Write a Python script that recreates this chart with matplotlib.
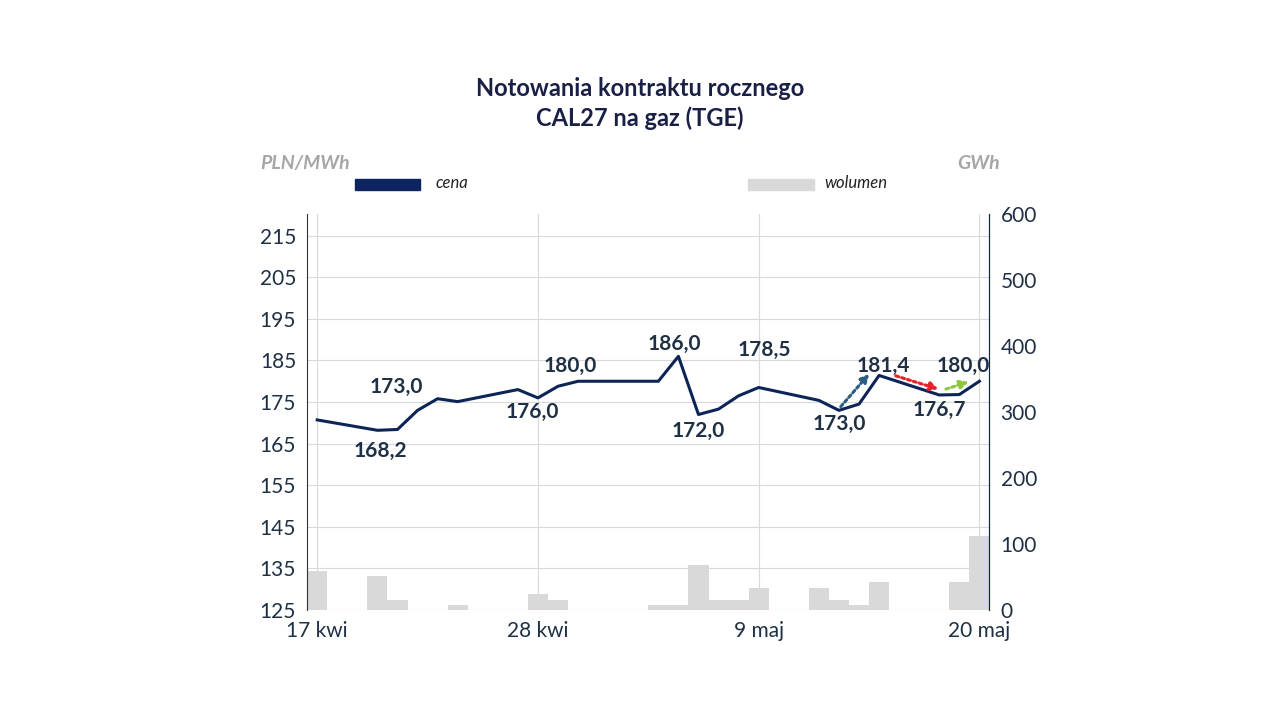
import numpy as np
import matplotlib.pyplot as plt
from matplotlib.patches import Rectangle

plt.rcParams['font.family'] = ['Lato', 'DejaVu Sans']

# dni liczone od 17 kwi
dni = [0, 3, 4, 5, 6, 7, 10, 11, 12, 13, 17, 18, 19, 20, 21, 22, 25, 26, 27, 28, 31, 32, 33]
cena = [170.7, 168.2, 168.4, 173.0, 175.8, 175.1, 178.0, 176.0, 178.8, 180.0, 180.0, 186.0,
        172.0, 173.3, 176.5, 178.5, 175.4, 173.0, 174.5, 181.4, 176.7, 176.8, 180.0]
dni_vol = [0, 3, 4, 7, 11, 12, 17, 18, 19, 20, 21, 22, 25, 26, 27, 28, 32, 33]
wolumen = [59, 52, 15, 8, 24, 15, 8, 8, 68, 15, 15, 33, 33, 15, 8, 42, 42, 112]
tick_pos = [0, 11, 22, 33]
tick_lab = ['17 kwi', '28 kwi', '9 maj', '20 maj']
# (indeks punktu, przesuniecie x, y w punktach)
opisy = [(1, 2, -15), (3, -15, 17), (7, -4, -10), (9, -6, 11), (11, -3, 9), (12, 0, -12),
         (15, 4, 27), (17, 0, -10), (19, 3, 7), (20, 0, -11), (22, -12, 11)]

navy = '#0d2457'
txt = '#1f3045'
fig = plt.figure(figsize=(12.8, 7.2), dpi=100)
ax2 = fig.add_axes([0.24, 0.153, 0.533, 0.55])
ax = ax2.twinx()
ax2.yaxis.tick_right()
ax.yaxis.tick_left()
ax2.bar(dni_vol, wolumen, width=1.0, color='#d9d9d9', zorder=1)
ax2.set_ylim(0, 600)
ax2.set_yticks(range(0, 601, 100))
ax.set_ylim(125, 125 + 396 / 4.156)
ax.set_yticks(range(125, 216, 10))
ax.set_xlim(-0.5, 33.5)
ax.plot(dni, cena, color=navy, lw=2.2, zorder=3)
for i, dx, dy in opisy:
    ax.annotate(f'{cena[i]:.1f}'.replace('.', ','), (dni[i], cena[i]), xytext=(dx, dy),
                textcoords='offset points', ha='center', va='center',
                fontsize=15, fontweight='bold', color=txt)
arr = dict(arrowstyle='-|>', lw=2.2, linestyle=(0, (1, 1)), mutation_scale=12)
ax.annotate('', xy=(27.6, 182.3), xytext=(26, 173.4), arrowprops=dict(color='#2a5d80', **arr))
ax.annotate('', xy=(31.1, 177.9), xytext=(28.7, 181.5), arrowprops=dict(color='#e8202a', **arr))
ax.annotate('', xy=(32.6, 180.1), xytext=(31.2, 177.9), arrowprops=dict(color='#8cc63f', **arr))
for a in (ax, ax2):
    a.set_xticks(tick_pos)
    a.set_xticklabels(tick_lab)
    a.tick_params(length=0, labelsize=15, labelcolor=txt, pad=8)
    for s in ('top', 'bottom'):
        a.spines[s].set_visible(False)
ax.spines['left'].set_color('#333333')
ax.spines['right'].set_color(navy)
ax2.spines['left'].set_visible(False)
ax2.spines['right'].set_color(navy)
for v in range(125, 216, 10):
    ax2.axhline((v - 125) * 4.156 / 0.66, color='#d9d9d9', lw=0.8, zorder=0)
for t in tick_pos:
    ax2.axvline(t, color='#d9d9d9', lw=0.8, zorder=0)
ax.set_zorder(ax2.get_zorder() + 1)
ax.patch.set_visible(False)

fig.text(0.5, 0.856, 'Notowania kontraktu rocznego\nCAL27 na gaz (TGE)', ha='center', va='center',
         fontsize=17, fontweight='bold', color='#1a1f45', linespacing=1.3)
fig.text(0.203, 0.765, 'PLN/MWh', fontsize=14, style='italic', fontweight='bold', color='#a6a6a6')
fig.text(0.748, 0.765, 'GWh', fontsize=14, style='italic', fontweight='bold', color='#a6a6a6')
fig.patches.append(Rectangle((0.277, 0.736), 0.051, 0.016, transform=fig.transFigure, color='#0d2460'))
fig.text(0.34, 0.746, 'cena', fontsize=12, style='italic', va='center', color='#222222')
fig.patches.append(Rectangle((0.584, 0.736), 0.052, 0.016, transform=fig.transFigure, color='#d9d9d9'))
fig.text(0.644, 0.746, 'wolumen', fontsize=12, style='italic', va='center', color='#222222')
fig.savefig('out.png')
